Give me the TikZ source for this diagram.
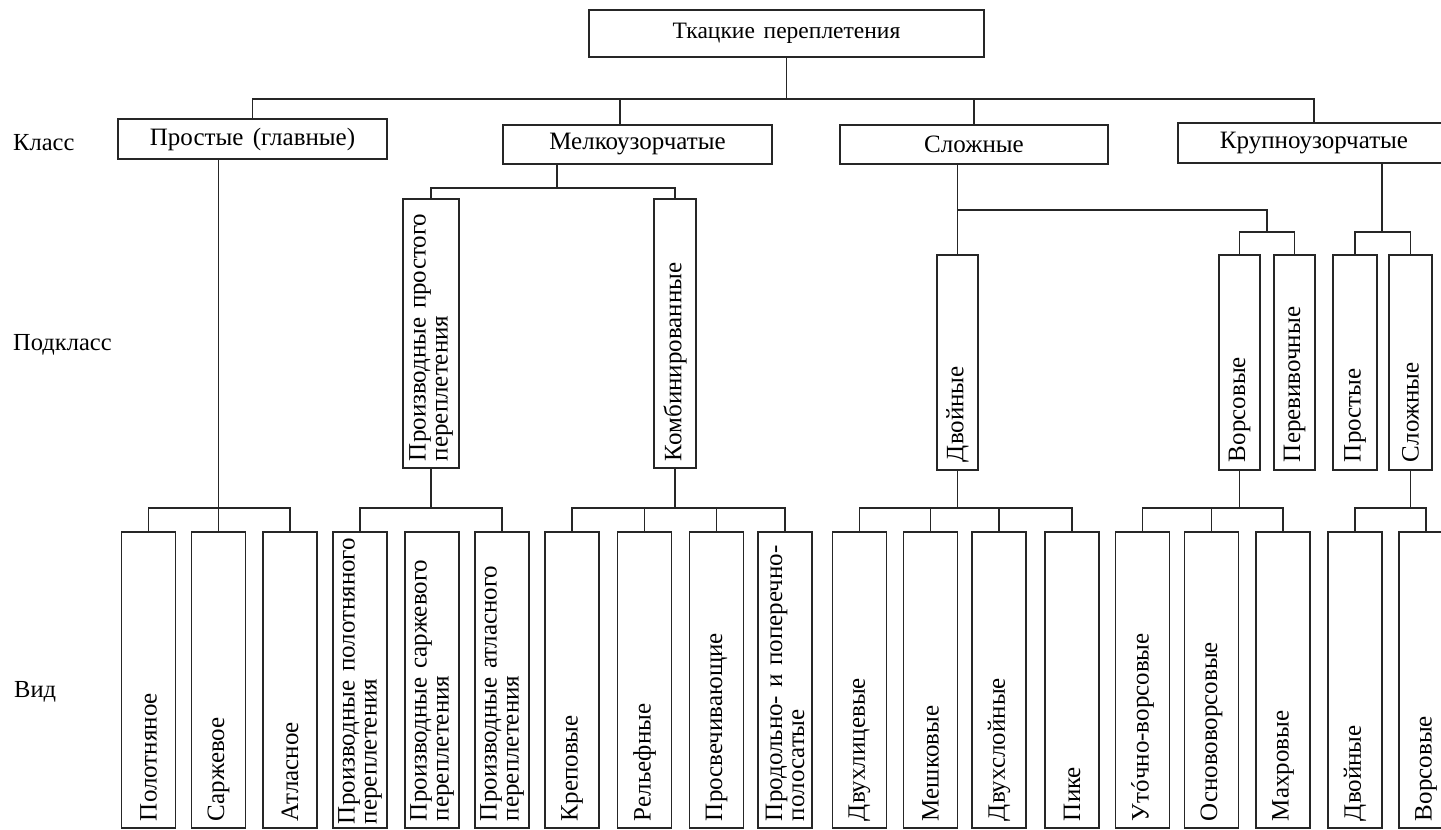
\documentclass[tikz,border=0pt]{standalone}
\usepackage{fontspec}
\setmainfont[WordSpace=1.5]{Liberation Serif}
\newfontfamily\vertfont[WordSpace=1.5]{Liberation Serif}
\newlength{\du}
\setlength{\du}{1pt}
\begin{document}
\begin{tikzpicture}[
  every node/.style={font=\fontsize{25}{25}\selectfont},
  hbox/.style={draw=dialinecolor, line width=1.4\du, fill=white, inner sep=0pt},
  vbox/.style={draw=dialinecolor, line width=1.4\du, fill=white, rotate=90, inner xsep=7\du, inner ysep=0pt, align=left, font=\vertfont\fontsize{25}{22}\selectfont},
  leaf/.style={vbox, minimum width=296\du, minimum height=54\du, text width=282\du},
  subleaf/.style={vbox, minimum width=215\du, minimum height=42\du, text width=199\du},
  conn/.style={draw=dialinecolor, line width=1.3\du},
  level/.style={anchor=west, inner sep=0pt, font=\fontsize{24.5}{24.5}\selectfont}
]
\pgftransformxscale{1.000000}
\pgftransformyscale{-1.000000}
\definecolor{dialinecolor}{rgb}{0.150000, 0.150000, 0.150000}
\fill[white] (0\du,0\du) rectangle (1441\du,830\du);
\useasboundingbox (0\du,0\du) rectangle (1441\du,830\du);
% levels
\node[level] (klass) at (13\du,143\du) {Класс};
\node[level] (podklass) at (13\du,345\du) {Подкласс};
\node[level] (vid) at (14\du,692\du) {Вид};
% class
\node[hbox, minimum width=395\du, minimum height=47\du, font=\fontsize{23.5}{23.5}\selectfont] (tk) at (786.5\du,33.5\du) {Ткацкие переплетения};
\node[hbox, minimum width=269\du, minimum height=40\du] (prost) at (252.5\du,139\du) {Простые (главные)};
\node[hbox, minimum width=269\du, minimum height=39\du] (melk) at (637.5\du,144.5\du) {Мелкоузорчатые};
\node[hbox, minimum width=268\du, minimum height=39\du] (slozh) at (974\du,144.5\du) {Сложные};
\node[hbox, minimum width=272\du, minimum height=40\du] (krup) at (1314\du,143\du) {Крупноузорчатые};
% subclass
\node[vbox, minimum width=269\du, minimum height=56\du, text width=255\du] (prpr) at (431\du,333.5\du) {Производные простого\\переплетения};
\node[vbox, minimum width=269\du, minimum height=42\du, text width=255\du] (komb) at (675\du,333.5\du) {Комбинированные};
\node[subleaf, minimum height=41\du] (dvoi) at (957.5\du,362.5\du) {Двойные};
\node[subleaf, minimum height=41\du] (vors) at (1239.5\du,362.5\du) {Ворсовые};
\node[subleaf, minimum height=41\du] (perev) at (1294.5\du,362.5\du) {Перевивочные};
\node[subleaf, minimum height=44\du] (prost2) at (1355\du,362.5\du) {Простые};
\node[subleaf, minimum height=43\du] (slozh2) at (1410.5\du,362.5\du) {Сложные};
% kind
\node[leaf] (pol) at (148.5\du,680\du) {Полотняное};
\node[leaf] (sarzh) at (218.5\du,680\du) {Саржевое};
\node[leaf] (atl) at (290\du,680\du) {Атласное};
\node[leaf, inner xsep=4\du, text width=288\du] (prpol) at (360\du,680\du) {\mbox{Производные полотняного}\\переплетения};
\node[leaf] (prsar) at (432\du,680\du) {Производные саржевого\\переплетения};
\node[leaf] (pratl) at (502\du,680\du) {Производные атласного\\переплетения};
\node[leaf] (krep) at (572\du,680\du) {Креповые};
\node[leaf] (rel) at (644.5\du,680\du) {Рельефные};
\node[leaf] (prosv) at (716.5\du,680\du) {Просвечивающие};
\node[leaf] (prod) at (785\du,680\du) {Продольно- и поперечно-\\полосатые};
\node[leaf] (dvuhl) at (859.5\du,680\du) {Двухлицевые};
\node[leaf] (mesh) at (930.5\du,680\du) {Мешковые};
\node[leaf] (dvsl) at (999\du,680\du) {Двухслойные};
\node[leaf] (pike) at (1072\du,680\du) {Пике};
\node[leaf] (utoch) at (1142.5\du,680\du) {Утóчно-ворсовые};
\node[leaf] (osn) at (1211.5\du,680\du) {Основоворсовые};
\node[leaf] (mahr) at (1283\du,680\du) {Махровые};
\node[leaf] (dvoi2) at (1355\du,680\du) {Двойные};
\node[leaf] (vors2) at (1426\du,680\du) {Ворсовые};
% buses
\coordinate (busa) at (0\du,99\du);
\coordinate (busb) at (0\du,188\du);
\coordinate (busc) at (0\du,210\du);
\coordinate (busd) at (0\du,508\du);
\coordinate (vorsjoin) at (1267\du,232\du);
\coordinate (krupjoin) at (1382\du,232\du);
\coordinate (melktop) at (620\du,125\du);
\coordinate (melkbot) at (557\du,164\du);
% top
\draw[conn] (tk.south) -- (tk.south |- busa);
\draw[conn] (prost.north) |- (krup.north |- busa) -- (krup.north);
\draw[conn] (melktop) -- (melktop |- busa);
\draw[conn] (slozh.north) -- (slozh.north |- busa);
% Простые
\draw[conn] (sarzh.east |- prost.south) -- (sarzh.east);
\draw[conn] (pol.east) |- (atl.east |- busd) -- (atl.east);
% Мелкоузорчатые
\draw[conn] (melkbot) -- (melkbot |- busb);
\draw[conn] (prpr.east) |- (komb.east |- busb) -- (komb.east);
\draw[conn] (prpr.west) -- (prpr.west |- busd);
\draw[conn] (prpol.east) |- (pratl.east |- busd) -- (pratl.east);
\draw[conn] (komb.west) -- (komb.west |- busd);
\draw[conn] (krep.east) |- (prod.east |- busd) -- (prod.east);
\draw[conn] (rel.east) -- (rel.east |- busd);
\draw[conn] (prosv.east) -- (prosv.east |- busd);
% Сложные
\draw[conn] (dvoi.east |- slozh.south) -- (dvoi.east);
\draw[conn] (dvoi.east |- busc) -| (vorsjoin);
\draw[conn] (vors.east) |- (perev.east |- vorsjoin) -- (perev.east);
\draw[conn] (dvoi.west) -- (dvoi.west |- busd);
\draw[conn] (dvuhl.east) |- (pike.east |- busd) -- (pike.east);
\draw[conn] (mesh.east) -- (mesh.east |- busd);
\draw[conn] (dvsl.east) -- (dvsl.east |- busd);
\draw[conn] (vors.west) -- (vors.west |- busd);
\draw[conn] (utoch.east) |- (mahr.east |- busd) -- (mahr.east);
\draw[conn] (osn.east) -- (osn.east |- busd);
% Крупноузорчатые
\draw[conn] (krupjoin |- krup.south) -- (krupjoin);
\draw[conn] (prost2.east) |- (slozh2.east |- krupjoin) -- (slozh2.east);
\draw[conn] (slozh2.west) -- (slozh2.west |- busd);
\draw[conn] (dvoi2.east) |- (vors2.east |- busd) -- (vors2.east);
\end{tikzpicture}
\end{document}
